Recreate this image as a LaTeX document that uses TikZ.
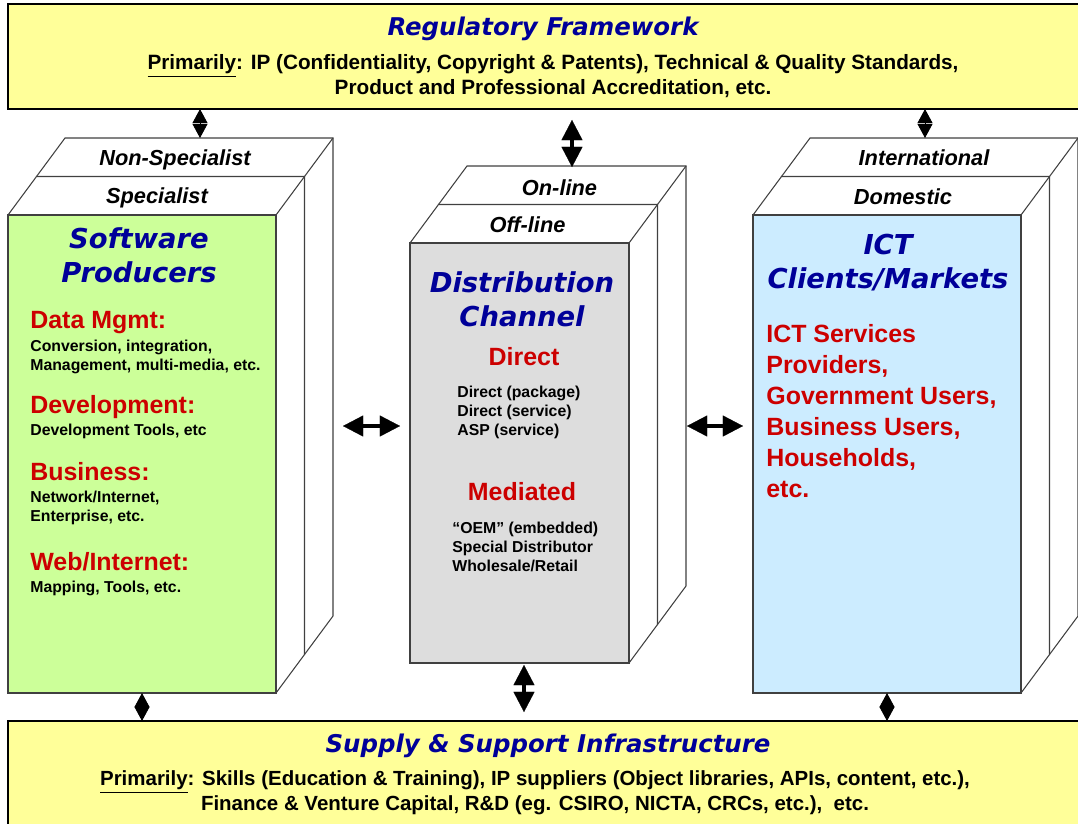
\documentclass[tikz,border=0pt]{standalone}
\usepackage{fontspec}
\setmainfont{Liberation Sans}
\newfontfamily\vfont{DejaVu Sans}
\usetikzlibrary{arrows.meta}
\definecolor{hdblue}{HTML}{000099}
\definecolor{hdred}{HTML}{CC0000}
\definecolor{regyel}{HTML}{FFFF99}
\definecolor{swgreen}{HTML}{CCFF99}
\definecolor{dcgrey}{HTML}{DDDDDD}
\definecolor{cmblue}{HTML}{CCECFF}
\begin{document}
\begin{tikzpicture}[x=0.02cm,y=-0.02cm]
\def\dx{28.5}
\def\dy{-38.5}
\tikzset{face/.style={draw=black!75,line width=0.6pt},
band/.style={draw=black,line width=1pt,fill=regyel,anchor=north west,minimum width=21.6cm,inner sep=0,outer sep=0},
ttl/.style={font=\vfont\fontsize{13.9}{16}\selectfont\bfseries\itshape,text=hdblue,inner sep=0,anchor=base},
hd/.style={font=\vfont\fontsize{15.6}{19.3}\selectfont\bfseries\itshape,text=hdblue,align=center,inner sep=0,anchor=base},
txt/.style={font=\fontsize{11.8}{13.9}\selectfont\bfseries,align=center,inner sep=0,anchor=base},
lay/.style={font=\fontsize{12.4}{14}\selectfont\bfseries\itshape,inner sep=0,anchor=base},
cat/.style={font=\fontsize{14.2}{17.6}\selectfont\bfseries,text=hdred,align=left,inner sep=0,anchor=base west},
sm/.style={font=\fontsize{9}{10.8}\selectfont\bfseries,align=left,inner sep=0,anchor=base west},
dia/.style={line width=0.5pt,{Triangle[width=8.5pt,length=8pt]}-{Triangle[width=8.5pt,length=8pt]}},
big/.style={line width=2.2pt,{Triangle[width=12pt,length=11.5pt,line width=0.1pt]}-{Triangle[width=12pt,length=11.5pt,line width=0.1pt]}}}
\useasboundingbox (0,0) rectangle (1078,823);
%% the two bands (multi-line nodes sit on their last line)
\node[band,minimum height=2.1cm] (reg) at (8,4) {};
\node[band,minimum height=2.4cm] (sup) at (8,721) {};
\node[ttl] (regt) at (543,35) {Regulatory Framework};
\node[txt] (regx) at (553,94) {\underline{Primarily}: IP (Confidentiality, Copyright \& Patents), Technical \& Quality Standards,\\Product and Professional Accreditation, etc.};
\node[ttl] (supt) at (548,752) {Supply \& Support Infrastructure};
\node[txt,font=\fontsize{11.65}{13.9}\selectfont\bfseries] (supx) at (535,810) {\underline{Primarily}: Skills (Education \& Training), IP suppliers (Object libraries, APIs, content, etc.),\\Finance \& Venture Capital, R\&D (eg. CSIRO, NICTA, CRCs, etc.), ~etc.};
%% blocks: back slab, then front slab
\foreach \n/\x/\y/\w/\h/\col in {sw/8/215/268/478/swgreen,dc/410/243/219/420/dcgrey,cm/753/215/268/478/cmblue}{
\foreach \s in {1,0}{
\filldraw[face,fill=white](\x+\s*\dx,\y+\s*\dy+\h)--++(0,-\h)--++(\dx,\dy)--++(\w,0)--++(0,\h)--++(-\dx,-\dy)--cycle;
\draw[face](\x+\s*\dx+\w,\y+\s*\dy)--++(\dx,\dy);
}
\node[face,fill=\col,anchor=north west,inner sep=0,outer sep=0,minimum width=\w*0.02cm,minimum height=\h*0.02cm](\n) at (\x,\y){};
}
\foreach \nm/\xx/\yy/\tt in {swn/175/165/Non-Specialist,sws/157/203/Specialist,dcn/559.5/195/On-line,dcs/527.5/232/Off-line,cmn/924/165/International,cms/903/204/Domestic}
\node[lay](\nm) at (\xx,\yy){\tt};
%% Software Producers
\node[hd](swh) at (139,282){Software\\Producers};
\foreach \nm/\ya/\yb/\ta/\tb in {dm/328/370/{Data Mgmt:}/{Conversion, integration,\\Management, multi-media, etc.},
dv/413/435/{Development:}/{Development Tools, etc},
bu/480/521/{Business:}/{Network/Internet,\\Enterprise, etc.},
wi/570/592/{Web/Internet:}/{Mapping, Tools, etc.}}{
\node[cat](\nm) at (30,\ya){\ta};
\node[sm](\nm x) at (30,\yb){\tb};
}
%% Distribution Channel
\node[hd](dch) at (522,326){Distribution\\Channel};
\node[cat,anchor=base](dcd) at (524,365){Direct};
\node[sm](dcdx) at (457,435){Direct (package)\\Direct (service)\\ASP (service)};
\node[cat,anchor=base](dcm) at (522,500){Mediated};
\node[sm](dcmx) at (452,571){“OEM” (embedded)\\Special Distributor\\Wholesale/Retail};
%% ICT Clients/Markets
\node[hd](cmh) at (888,288){ICT\\Clients/Markets};
\node[cat](cmx) at (766,497){ICT Services\\Providers,\\Government Users,\\Business Users,\\Households,\\etc.};
%% arrows
\coordinate(swt) at (200,138);
\coordinate(cmt) at (925,138);
\coordinate(dct) at (572,167);
\coordinate(dcb) at (524,663);
\coordinate(swr) at (333.5,426);
\coordinate(dcr) at (686,426);
\foreach \x in {swt,cmt}
\draw[dia](reg.south -| \x)--(\x);
\foreach \x in {sw,cm}
\draw[dia](\x.south)--(\x.south |- sup.north);
\draw[big,shorten <=0.22cm](reg.south -| dct)--(dct);
\draw[big,shorten <=0.04cm,shorten >=0.18cm](dcb)--(dcb |- sup.north);
\draw[big,shorten <=0.19cm,shorten >=0.2cm](swr)--(dc.west |- swr);
\draw[big,shorten <=0.02cm,shorten >=0.2cm](dcr)--(cm.west |- dcr);
\end{tikzpicture}
\end{document}
